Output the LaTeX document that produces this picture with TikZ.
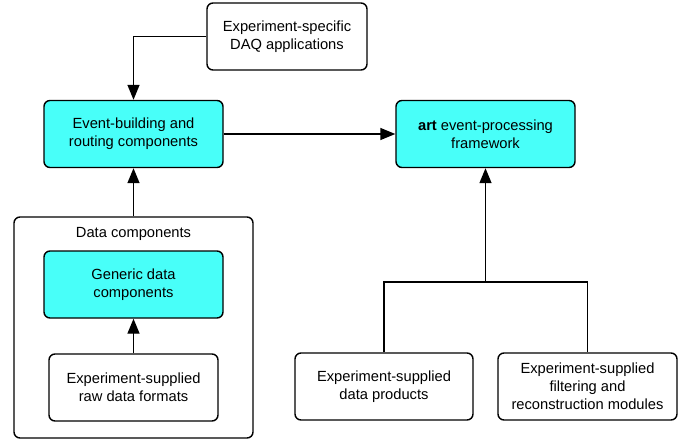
\documentclass[tikz,border=0pt]{standalone}
\usepackage{fontspec}
\setmainfont{Liberation Sans}
\usetikzlibrary{arrows.meta}
\definecolor{boxcyan}{RGB}{72,255,249}

\begin{document}
\begin{tikzpicture}
    [x=1pt, y=-1pt,
    font=\fontsize{14.7}{18}\selectfont,
    line width=1.4pt,
    every node/.style={rectangle, rounded corners=6pt, align=center},
    box/.style={draw, minimum width=179pt, minimum height=67pt},
    core/.style={box, fill=boxcyan},
    >={Triangle[length=15pt, width=12pt]}]

    \useasboundingbox (0,0) rectangle (688,441);

    % outer group
    \node[draw, minimum width=239pt, minimum height=221pt] (data) at (133.5,327.5) {};
    \node (datalbl) at (133.5,234) {Data components};

    \node[box, minimum width=160pt] (daq) at (287,36.5) {Experiment-specific\\DAQ applications};
    \node[core] (evb) at (133.5,134) {Event-building and\\routing components};
    \node[core] (art) at (485.5,134) {\textbf{art} event-processing\\framework};
    \node[core] (gen) at (133.5,284.5) {Generic data\\components};
    \node[box, minimum width=169pt] (raw) at (133.5,387.5) {Experiment-supplied\\raw data formats};
    \node[box, minimum width=178pt] (prod) at (384,386.5) {Experiment-supplied\\data products};
    \node[box] (filt) at (587.5,386.5) {Experiment-supplied\\filtering and\\reconstruction modules};

    \coordinate (j) at (art.south |- 0,282);

    \draw[->] (daq.west) -| (evb.north);
    \draw[->] (evb.east) -- (art.west);
    \draw[->] (data.north) -- (evb.south);
    \draw[->] (raw.north) -- (gen.south);
    \draw (prod.north) |- (j) -| (filt.north);
    \draw[->] (j) -- (art.south);

\end{tikzpicture}
\end{document}
